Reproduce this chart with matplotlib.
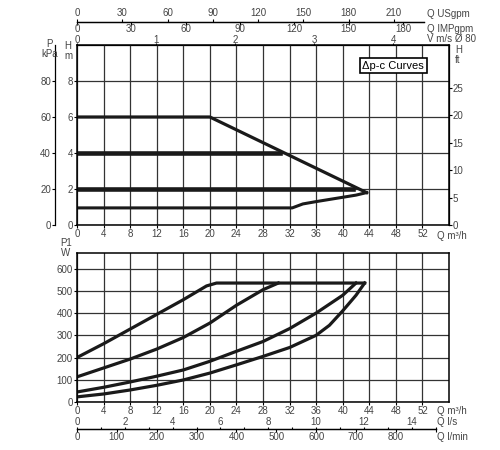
import matplotlib.pyplot as plt
from matplotlib.ticker import FixedLocator

plt.rcParams['font.family'] = ['Liberation Sans', 'DejaVu Sans']
plt.rcParams['font.size'] = 7

# head curves (Q in m3/h, H in m)
q_curve6 = [0, 20, 43.6]
h_curve6 = [6, 6, 1.8]
q_curve4 = [0, 30.5]
h_curve4 = [4, 4]
q_curve2 = [0, 41.5]
h_curve2 = [2, 2]
q_curve1 = [0, 32.4, 34, 36, 38, 40, 42, 43.6]
h_curve1 = [0.95, 0.95, 1.17, 1.3, 1.42, 1.54, 1.66, 1.8]

# power curves (Q in m3/h, P1 in W)
q_pa = [0, 4, 8, 12, 16, 19.5, 21, 43.3]
p_pa = [200, 262, 328, 394, 460, 522, 535, 535]
q_pb = [0, 4, 8, 12, 16, 20, 24, 26, 28, 30.3]
p_pb = [113, 153, 193, 238, 290, 355, 435, 470, 505, 535]
q_pc = [0, 4, 8, 12, 16, 20, 24, 28, 32, 36, 40, 42]
p_pc = [45, 66, 90, 116, 144, 183, 228, 272, 330, 400, 480, 535]
q_pd = [0, 4, 8, 12, 16, 20, 24, 28, 32, 36, 38, 40, 42, 43.3]
p_pd = [23, 36, 54, 75, 99, 130, 167, 205, 245, 300, 345, 410, 480, 535]

q_ticks = list(range(0, 53, 4))
h_ticks = [0, 2, 4, 6, 8]
kpa_ticks = [0, 20, 40, 60, 80]
ft_ticks = [0, 5, 10, 15, 20, 25]
usgpm_ticks = [0, 30, 60, 90, 120, 150, 180, 210]
imp_ticks = [0, 30, 60, 90, 120, 150, 180]
vel_ticks = [0, 1, 2, 3, 4]
p_ticks = [0, 100, 200, 300, 400, 500, 600]
lps_ticks = [0, 2, 4, 6, 8, 10, 12, 14]
lpm_ticks = [0, 100, 200, 300, 400, 500, 600, 700, 800]

ink = '#1a1a1a'
txt = '#444444'

fig = plt.figure(figsize=(5, 4.5), dpi=100)
ax1 = fig.add_axes([0.154, 0.5, 0.744, 0.4])
ax2 = fig.add_axes([0.154, 0.1067, 0.744, 0.331])


def style(ax):
    ax.set_xlim(0, 56)
    ax.set_xticks(q_ticks)
    ax.grid(True, color='#333333', lw=0.9)
    ax.set_axisbelow(True)
    for s in ax.spines.values():
        s.set_linewidth(1.1)
        s.set_color('black')
    ax.tick_params(length=2, width=0.8, pad=1, labelcolor=txt)


def sec_style(sec, length=2, pad=0.5):
    for s in sec.spines.values():
        s.set_linewidth(0.9)
    sec.tick_params(which='both', length=length, width=0.8, pad=pad, labelcolor=txt)


style(ax1)
ax1.set_ylim(0, 10)
ax1.set_yticks(h_ticks)
ax1.plot(q_curve6, h_curve6, color=ink, lw=2.3, solid_joinstyle='round')
ax1.plot(q_curve4, h_curve4, color=ink, lw=3.3)
ax1.plot(q_curve2, h_curve2, color=ink, lw=3.3)
ax1.plot(q_curve1, h_curve1, color=ink, lw=2.2, solid_joinstyle='round')

# kPa axis on the left
kpa = ax1.secondary_yaxis(-0.059, functions=(lambda m: m * 10, lambda k: k / 10))
kpa.set_yticks(kpa_ticks)
sec_style(kpa, pad=1)
# ft axis on the right
ft = ax1.secondary_yaxis('right', functions=(lambda m: m * 3.2808, lambda f: f / 3.2808))
ft.set_yticks(ft_ticks)
sec_style(ft, pad=0.5)
# flow scales on top
us = ax1.secondary_xaxis(1.128, functions=(lambda q: q * 4.403, lambda g: g / 4.403))
us.set_xticks(usgpm_ticks)
us.spines['top'].set_bounds(0, 230)
sec_style(us)
imp = ax1.secondary_xaxis(1.128, functions=(lambda q: q * 3.666, lambda g: g / 3.666))
imp.set_alignment('bottom')
imp.set_xticks(imp_ticks)
imp.spines['bottom'].set_bounds(0, 191.6)
sec_style(imp, pad=-0.5)
vel = ax1.secondary_xaxis('top', functions=(lambda q: q / 11.9, lambda v: v * 11.9))
vel.set_xticks(vel_ticks)
sec_style(vel, length=1.5, pad=-1.5)

t1 = ax1.get_xaxis_transform()
ax1.text(52.7, 1.172, 'Q USgpm', transform=t1, ha='left', va='center', color=txt)
ax1.text(52.7, 1.089, 'Q IMPgpm', transform=t1, ha='left', va='center', color=txt)
ax1.text(52.7, 1.033, 'V m/s Ø 80', transform=t1, ha='left', va='center', color=txt)
ax1.text(54.2, -0.06, 'Q m³/h', transform=t1, ha='left', va='center', color=txt)
ax1.text(-0.073, 0.978, 'P\nkPa', transform=ax1.transAxes, ha='center', va='center',
         color=txt, linespacing=1.0)
ax1.text(-0.024, 0.967, 'H\nm', transform=ax1.transAxes, ha='center', va='center',
         color=txt, linespacing=1.0)
ax1.text(1.016, 0.944, 'H\nft', transform=ax1.transAxes, ha='left', va='center',
         color=txt, linespacing=1.0)
ax1.text(47.6, 0.886, 'Δp-c Curves', transform=t1, ha='center', va='center',
         fontsize=8, family=['Liberation Sans Narrow', 'Liberation Sans'],
         bbox=dict(boxstyle='square,pad=0.25', fc='white', ec='black', lw=1.2))

style(ax2)
ax2.set_ylim(0, 670)
ax2.set_yticks(p_ticks)
for q, p in [(q_pa, p_pa), (q_pb, p_pb), (q_pc, p_pc), (q_pd, p_pd)]:
    ax2.plot(q, p, color=ink, lw=2.3, solid_joinstyle='round')

lps = ax2.secondary_xaxis(-0.181, functions=(lambda q: q / 3.6, lambda s: s * 3.6))
lps.set_alignment('top')
lps.set_xticks(lps_ticks)
lps.xaxis.set_minor_locator(FixedLocator(list(range(1, 16, 2))))
lps.spines['top'].set_bounds(0, 15)
sec_style(lps, length=1.5, pad=0)
lpm = ax2.secondary_xaxis(-0.181, functions=(lambda q: q * 1000 / 60, lambda m: m * 60 / 1000))
lpm.set_alignment('bottom')
lpm.set_xticks(lpm_ticks)
lpm.xaxis.set_minor_locator(FixedLocator([900]))
lpm.spines['bottom'].set_bounds(0, 900)
sec_style(lpm, length=2, pad=0.3)

t2 = ax2.get_xaxis_transform()
ax2.text(54.2, -0.06, 'Q m³/h', transform=t2, ha='left', va='center', color=txt)
ax2.text(54.2, -0.134, 'Q l/s', transform=t2, ha='left', va='center', color=txt)
ax2.text(54.2, -0.235, 'Q l/min', transform=t2, ha='left', va='center', color=txt)
ax2.text(-0.03, 1.034, 'P1\nW', transform=ax2.transAxes, ha='center', va='center',
         color=txt, linespacing=1.0)

fig.savefig('out.png', dpi=100)
